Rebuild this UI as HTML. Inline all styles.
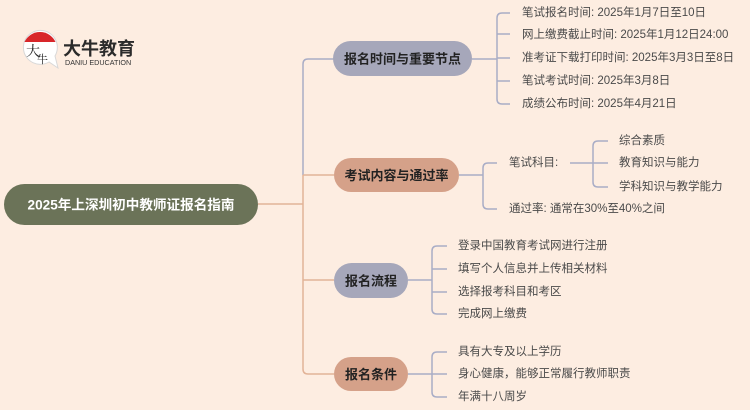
<!DOCTYPE html>
<html><head><meta charset="utf-8">
<style>
html,body{margin:0;padding:0;background:#fdede1;}
svg{display:block;}
text{font-family:"Liberation Sans","Noto Sans CJK SC",sans-serif;}
.it{font-size:11.5px;fill:#4a4a4a;dominant-baseline:central;}
.nd{font-size:13px;font-weight:bold;fill:#222;dominant-baseline:central;text-anchor:middle;}
</style></head>
<body>
<svg width="750" height="410" viewBox="0 0 750 410" xmlns="http://www.w3.org/2000/svg">
<rect width="750" height="410" fill="#fdede1"/>
<!-- logo -->
<g>
  <path d="M49,62 A17,17 0 1 1 55,56 L58,68 Z" fill="#fff" stroke="#d8d8d8" stroke-width="1"/>
  <path d="M24.5,42 A17,17 0 0 1 55.5,42 Z" fill="#d8262a"/>
  <text x="26" y="56" font-size="14" fill="#222" style="font-family:'Noto Serif CJK SC',serif">大</text>
  <text x="37" y="63" font-size="11" fill="#222" style="font-family:'Noto Serif CJK SC',serif">牛</text>
  <text x="63" y="55" font-size="18" font-weight="bold" fill="#2b2b2b">大牛教育</text>
  <text x="65" y="65" font-size="7.2" fill="#333">DANIU EDUCATION</text>
</g>
<g fill="none" stroke-width="1.5">
  <path d="M258,204 H303" stroke="#e2b397"/>
  <path d="M334,59 H308 Q303,59 303,64 V175" stroke="#a9adc6"/>
  <path d="M303,175 V369 Q303,374 308,374 H334" stroke="#e2b397"/>
  <path d="M303,175 H334" stroke="#e2b397"/>
  <path d="M303,280 H334" stroke="#e2b397"/>
  <g stroke="#a9adc6">
    <path d="M472,59 H497"/>
    <path d="M510,13 H502 Q497,13 497,18 V99 Q497,104 502,104 H510"/>
    <path d="M497,34 H510 M497,58 H510 M497,81 H510"/>
    <path d="M459,175 H483"/>
    <path d="M497,163 H488 Q483,163 483,168 V204 Q483,209 488,209 H497"/>
    <path d="M570,163 H608"/>
    <path d="M608,141 H598 Q593,141 593,146 V182 Q593,187 598,187 H608"/>
    <path d="M408,280 H432"/>
    <path d="M447,246 H437 Q432,246 432,251 V309 Q432,314 437,314 H447"/>
    <path d="M432,269 H447 M432,292 H447"/>
    <path d="M408,374 H447"/>
    <path d="M447,352 H437 Q432,352 432,357 V392 Q432,397 437,397 H447"/>
  </g>
</g>
<rect x="4" y="184" width="254" height="41" rx="20.5" fill="#6b7358"/>
<text x="131" y="205" font-size="13.6" font-weight="bold" fill="#fff" text-anchor="middle" dominant-baseline="central">2025年上深圳初中教师证报名指南</text>
<rect x="333" y="41" width="139" height="35" rx="17.5" fill="#a6a7ba"/>
<text class="nd" x="402.5" y="59">报名时间与重要节点</text>
<rect x="334" y="158" width="125" height="34" rx="17" fill="#d5a189"/>
<text class="nd" x="396.5" y="175.5">考试内容与通过率</text>
<rect x="334" y="263" width="74" height="35" rx="17.5" fill="#a6a7ba"/>
<text class="nd" x="371" y="281">报名流程</text>
<rect x="334" y="357" width="74" height="34" rx="17" fill="#d5a189"/>
<text class="nd" x="371" y="374.5">报名条件</text>
<text class="it" x="522" y="13">笔试报名时间: 2025年1月7日至10日</text>
<text class="it" x="522" y="35">网上缴费截止时间: 2025年1月12日24:00</text>
<text class="it" x="522" y="58">准考证下载打印时间: 2025年3月3日至8日</text>
<text class="it" x="522" y="81">笔试考试时间: 2025年3月8日</text>
<text class="it" x="522" y="104">成绩公布时间: 2025年4月21日</text>
<text class="it" x="509" y="163">笔试科目:</text>
<text class="it" x="509" y="209">通过率: 通常在30%至40%之间</text>
<text class="it" x="619" y="141">综合素质</text>
<text class="it" x="619" y="163">教育知识与能力</text>
<text class="it" x="619" y="187">学科知识与教学能力</text>
<text class="it" x="458" y="246">登录中国教育考试网进行注册</text>
<text class="it" x="458" y="269">填写个人信息并上传相关材料</text>
<text class="it" x="458" y="292">选择报考科目和考区</text>
<text class="it" x="458" y="314">完成网上缴费</text>
<text class="it" x="458" y="352">具有大专及以上学历</text>
<text class="it" x="458" y="374">身心健康，能够正常履行教师职责</text>
<text class="it" x="458" y="397">年满十八周岁</text>
</svg>
</body></html>
